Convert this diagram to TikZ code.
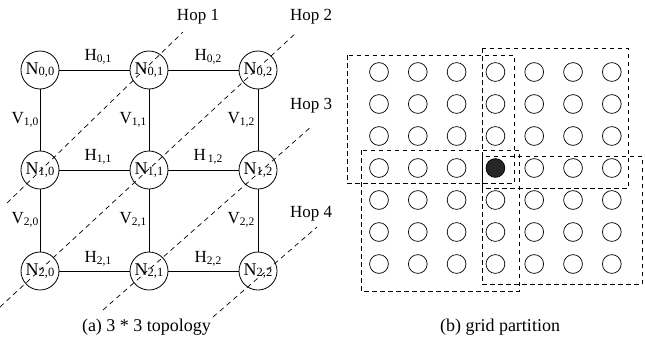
\documentclass[tikz,border=0pt]{standalone}
\usepackage{fontspec}
\setmainfont{Liberation Serif}
\newcommand{\sbs}[1]{\raisebox{-1.5pt}{\fontsize{11.5}{11.5}\selectfont #1}}
\newcommand{\nsbs}[1]{\raisebox{-1.5pt}{\fontsize{12.5}{12.5}\selectfont #1}}
\tikzset{
  nd/.style={circle, draw, line width=0.8pt, minimum size=38pt, inner sep=0pt, font=\fontsize{18}{18}\selectfont},
  lbl/.style={font=\fontsize{17}{17}\selectfont, inner sep=0pt},
  captxt/.style={font=\fontsize{18}{18}\selectfont, inner sep=0pt},
  link/.style={line width=0.8pt},
  hopline/.style={line width=0.7pt, dash pattern=on 5pt off 4pt},
  part/.style={line width=0.7pt, dash pattern=on 4.5pt off 3.5pt},
  gc/.style={circle, draw, line width=0.7pt, minimum size=18.8pt, inner sep=0pt},
  gcf/.style={gc, fill=black!85}
}
\begin{document}
\begin{tikzpicture}[x=1pt,y=-1pt]
\useasboundingbox (0,0) rectangle (645,343);
% ---- (a) topology ----
\node[nd] (n00) at (40,70) {N\nsbs{0,0}};
\node[nd] (n01) at (149,70) {N\nsbs{0,1}};
\node[nd] (n02) at (258,70) {N\nsbs{0,2}};
\node[nd] (n10) at (40,170) {N\nsbs{1,0}};
\node[nd] (n11) at (149,170) {N\nsbs{1,1}};
\node[nd] (n12) at (258,170) {N\nsbs{1,2}};
\node[nd] (n20) at (40,271) {N\nsbs{2,0}};
\node[nd] (n21) at (149,271) {N\nsbs{2,1}};
\node[nd] (n22) at (258,271) {N\nsbs{2,2}};
\draw[link] (n00) -- (n01);
\draw[link] (n01) -- (n02);
\draw[link] (n10) -- (n11);
\draw[link] (n11) -- (n12);
\draw[link] (n20) -- (n21);
\draw[link] (n21) -- (n22);
\draw[link] (n00) -- (n10);
\draw[link] (n10) -- (n20);
\draw[link] (n01) -- (n11);
\draw[link] (n11) -- (n21);
\draw[link] (n02) -- (n12);
\draw[link] (n12) -- (n22);
% link labels
\node[lbl] (h01) at (98,57) {H\sbs{0,1}};
\node[lbl] (h02) at (208,57) {H\sbs{0,2}};
\node[lbl] (h11) at (98,157) {H\sbs{1,1}};
\node[lbl] (h12) at (208,157) {H\sbs{\,1,2}};
\node[lbl] (h21) at (98,259) {H\sbs{2,1}};
\node[lbl] (h22) at (208,259) {H\sbs{2,2}};
\node[lbl] (v10) at (25,120) {V\sbs{1,0}};
\node[lbl] (v11) at (133,120) {V\sbs{1,1}};
\node[lbl] (v12) at (241,120) {V\sbs{1,2}};
\node[lbl] (v20) at (25,220) {V\sbs{2,0}};
\node[lbl] (v21) at (133,220) {V\sbs{2,1}};
\node[lbl] (v22) at (241,220) {V\sbs{2,2}};
% hop lines
\coordinate (h1a) at (7,203);   \coordinate (h1b) at (183,32);
\coordinate (h2a) at (0,307);   \coordinate (h2b) at (297,32);
\coordinate (h3a) at (103,310); \coordinate (h3b) at (312,126);
\coordinate (h4a) at (213,317); \coordinate (h4b) at (317,227);
\draw[hopline] (h1a) -- (h1b);
\draw[hopline] (h2a) -- (h2b);
\draw[hopline] (h3a) -- (h3b);
\draw[hopline] (h4a) -- (h4b);
\node[lbl] (hop1) at (198,17) {Hop 1};
\node[lbl, anchor=west] (hop2) at (290,17) {Hop 2};
\node[lbl, anchor=west] (hop3) at (290,106) {Hop 3};
\node[lbl, anchor=west] (hop4) at (290,214) {Hop 4};
\node[captxt] (capa) at (146.5,327) {(a) 3 * 3 topology};
% ---- (b) grid partition ----
\foreach \i in {0,...,6} {
  \foreach \j in {0,...,6} {
    \pgfmathsetmacro{\gx}{379+38.8*\i}
    \pgfmathsetmacro{\gy}{72+32*\j}
    \ifnum\i=3 \ifnum\j=3
      \node[gcf] (g-\i-\j) at (\gx,\gy) {};
    \else
      \node[gc] (g-\i-\j) at (\gx,\gy) {};
    \fi\else
      \node[gc] (g-\i-\j) at (\gx,\gy) {};
    \fi
  }
}
\draw[part] (347,55) rectangle (514,183);
\draw[part] (482,48) rectangle (628,188);
\draw[part] (361,150) rectangle (519,291);
\draw[part] (482,156) rectangle (642,284);
\node[captxt] (capb) at (500,327) {(b) grid partition};
\end{tikzpicture}
\end{document}
